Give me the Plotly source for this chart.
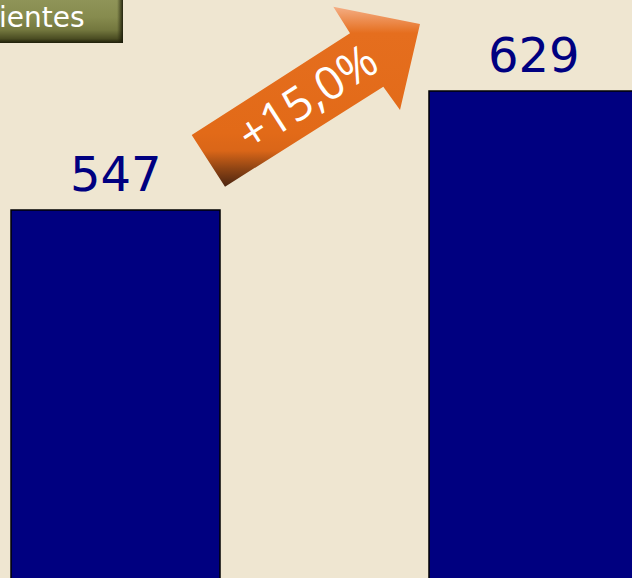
import plotly.graph_objects as go

# ---- data ----
categories = ["Periodo 1", "Periodo 2"]
positions = [0, 1]
values = [547, 629]
value_labels = ["547", "629"]
change_label = "+15,0%"
box_label = "ientes"

# ---- geometry helpers (pixel -> data) ----
W, H = 632, 578
X0, KX = 115.5, 418.0
YMIN, YMAX = 293.4, 691.7


def dx(p):
    return (p - X0) / KX


def dy(p):
    return YMAX - p * (YMAX - YMIN) / H


BG = "#EFE6D1"
NAVY = "#000080"

fig = go.Figure()

fig.add_trace(go.Bar(
    x=positions, y=values, width=0.5,
    marker=dict(color=NAVY, line=dict(color="#000000", width=1.5)),
    hoverinfo="skip", showlegend=False,
))

# arrow (decoration)
arrow_px = [(191.7, 135), (350, 33.3), (333.3, 6.7), (420, 24), (400, 110),
            (383.3, 86.7), (225, 186.7), (191.7, 135)]
fig.add_trace(go.Scatter(
    x=[dx(p[0]) for p in arrow_px], y=[dy(p[1]) for p in arrow_px],
    mode="lines", fill="toself", line=dict(width=0, color="#E26A18"),
    fillgradient=dict(type="vertical",
                      colorscale=[[0, "#4A2410"], [0.1, "#8E4414"], [0.2, "#DA6618"],
                                  [0.3, "#E26A18"], [0.85, "#E56E1E"], [1, "#F5B088"]],
                      start=dy(187), stop=dy(6)),
    hoverinfo="skip", showlegend=False,
))

# legend-like box top left
box_px = [(0, 0), (123, 0), (123, 43), (0, 43), (0, 0)]
fig.add_trace(go.Scatter(
    x=[dx(p[0]) for p in box_px], y=[dy(p[1]) for p in box_px],
    mode="lines", fill="toself", line=dict(width=0, color="#868B4E"),
    fillgradient=dict(type="vertical",
                      colorscale=[[0, "#1E1E0A"], [0.1, "#4A4C22"], [0.3, "#73773E"],
                                  [0.6, "#868B4E"], [1, "#8F9458"]],
                      start=dy(43), stop=dy(0)),
    hoverinfo="skip", showlegend=False,
))
shadow_px = [(117, 0), (123, 0), (123, 43), (117, 43), (117, 0)]
fig.add_trace(go.Scatter(
    x=[dx(p[0]) for p in shadow_px], y=[dy(p[1]) for p in shadow_px],
    mode="lines", fill="toself", line=dict(width=0, color="#3A3B18"),
    fillgradient=dict(type="horizontal",
                      colorscale=[[0, "rgba(40,40,15,0)"], [1, "rgba(25,25,8,0.9)"]],
                      start=dx(117), stop=dx(123)),
    hoverinfo="skip", showlegend=False,
))

for xp, v, lab in zip(positions, values, value_labels):
    fig.add_annotation(x=xp, y=v, text=lab, showarrow=False, yanchor="bottom",
                       yshift=6, font=dict(family="DejaVu Sans", size=48, color=NAVY))

fig.add_annotation(x=306 / W, y=1 - 96 / H, xref="paper", yref="paper",
                   text=change_label, showarrow=False, textangle=-32.7,
                   xanchor="center", yanchor="middle",
                   font=dict(family="Open Sans", size=46, color="#FFFFFF"))

fig.add_annotation(x=0, y=1 - 17 / H, xref="paper", yref="paper",
                   text=box_label, showarrow=False, xanchor="left", yanchor="middle",
                   xshift=-3, font=dict(family="DejaVu Sans", size=28, color="#FFFFFF"))

fig.update_layout(
    width=W, height=H, margin=dict(l=0, r=0, t=0, b=0),
    paper_bgcolor=BG, plot_bgcolor=BG,
    xaxis=dict(range=[dx(0), dx(W)], visible=False, tickvals=positions, ticktext=categories),
    yaxis=dict(range=[YMIN, YMAX], visible=False),
    showlegend=False,
)

fig.write_html("out.html",
               config={"displayModeBar": False, "staticPlot": True},
               post_script="document.body.style.margin='0';"
                           "document.body.style.background='#EFE6D1';"
                           "document.body.style.overflow='hidden';")
